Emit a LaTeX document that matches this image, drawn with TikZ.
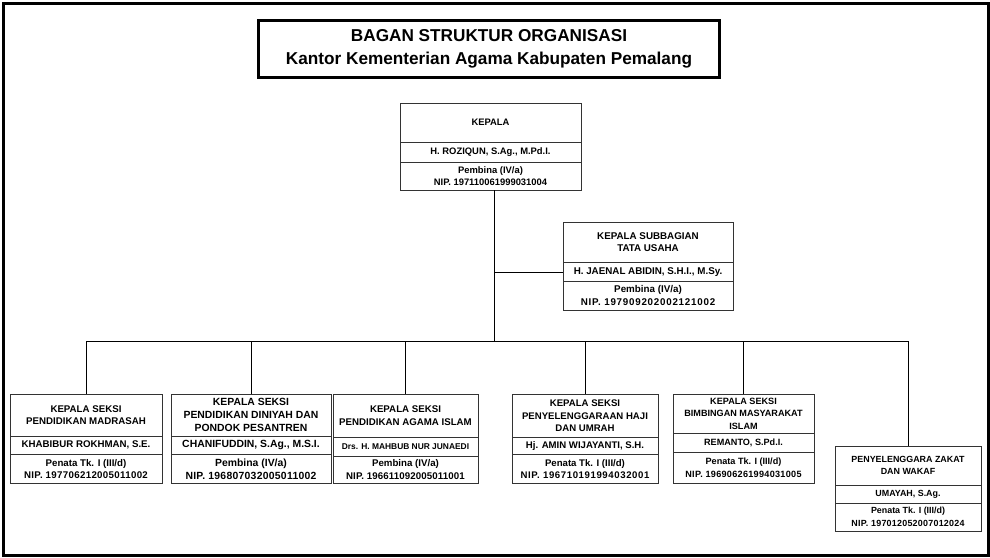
\documentclass[tikz,border=0pt]{standalone}
\usepackage{fontspec}
\setmainfont{Liberation Sans}
\tikzset{
  sect/.style={draw=black!80, line width=0.9pt, inner sep=0pt, outer sep=0pt, align=center,
    font=\bfseries\fontsize{\gfs}{\gbs}\selectfont, anchor=north west},
  conn/.style={draw=black, line width=0.9pt},
  smallname/.style={font=\bfseries\fontsize{8.4}{9}\selectfont}
}
\newcommand\setgeom[6]{\def\gxa{#1}\def\gxb{#2}\def\gya{#3}\def\gyb{#4}\def\gyc{#5}\def\gyd{#6}}
\newcommand\setfnt[3]{\def\gfs{#1}\def\gbs{#2}\def\gls{#3}}
\newcommand\nipline[1]{\edef\niptmp{\noexpand\addfontfeature{LetterSpace=\gls}}\niptmp NIP. #1}
\newcommand\orgbox[6][]{%
  \pgfmathsetmacro\gw{\gxb-\gxa}%
  \pgfmathsetmacro\gha{\gyb-\gya}%
  \pgfmathsetmacro\ghb{\gyc-\gyb}%
  \pgfmathsetmacro\ghc{\gyd-\gyc}%
  \node[sect, minimum width=\gw pt, minimum height=\gha pt] (#2t) at (\gxa,\gya) {#3};
  \node[sect, minimum width=\gw pt, minimum height=\ghb pt, #1] (#2n) at (\gxa,\gyb) {#4};
  \node[sect, minimum width=\gw pt, minimum height=\ghc pt] (#2b) at (\gxa,\gyc) {#5\\{\nipline{#6}}};
}
\begin{document}
\begin{tikzpicture}[x=1pt,y=-1pt]
\useasboundingbox (0,0) rectangle (990,557);
% outer frame
\node[draw=black, line width=3pt, minimum width=985pt, minimum height=552.5pt, inner sep=0pt, anchor=north west] (frame) at (2,1.5) {};
% title
\node[draw=black, line width=3pt, minimum width=461pt, minimum height=57.5pt, inner sep=0pt, anchor=north west, align=center,
  font=\bfseries\fontsize{17.2}{23.3}\selectfont] (title) at (257,18.5) {BAGAN STRUKTUR ORGANISASI\\Kantor Kementerian Agama Kabupaten Pemalang};
% boxes
\setfnt{9.4}{12.6}{0}
\setgeom{400}{581}{103}{142.5}{162.5}{190}
\orgbox{k0}{KEPALA}{H. ROZIQUN, S.Ag., M.Pd.I.}{Pembina (IV/a)}{197110061999031004}
\setfnt{9.8}{12.6}{7.7}
\setgeom{563}{733}{222}{262.5}{281.5}{310}
\orgbox{ts}{KEPALA SUBBAGIAN\\TATA USAHA}{H. JAENAL ABIDIN, S.H.I., M.Sy.}{Pembina (IV/a)}{197909202002121002}
\setfnt{9.7}{12.6}{3.4}
\setgeom{10}{162}{394}{436}{454.5}{483.5}
\orgbox{b1}{KEPALA SEKSI\\PENDIDIKAN MADRASAH}{KHABIBUR ROKHMAN, S.E.}{Penata Tk. I (III/d)}{197706212005011002}
\setfnt{10.4}{12.8}{2.6}
\setgeom{171}{331}{394}{436}{454.5}{483.5}
\orgbox{b2}{KEPALA SEKSI\\PENDIDIKAN DINIYAH DAN\\PONDOK PESANTREN}{CHANIFUDDIN, S.Ag., M.S.I.}{Pembina (IV/a)}{196807032005011002}
\setfnt{9.7}{12.6}{1.2}
\setgeom{333}{478}{394}{437.5}{456}{483.5}
\orgbox[smallname]{b3}{KEPALA SEKSI\\PENDIDIKAN AGAMA ISLAM}{Drs. H. MAHBUB NUR JUNAEDI}{Pembina (IV/a)}{196611092005011001}
\setfnt{9.6}{12.6}{6.3}
\setgeom{512}{658}{394}{437.5}{454.5}{483.5}
\orgbox{b4}{KEPALA SEKSI\\PENYELENGGARAAN HAJI\\DAN UMRAH}{Hj. AMIN WIJAYANTI, S.H.}{Penata Tk. I (III/d)}{196710191994032001}
\setfnt{9.1}{12.6}{3.2}
\setgeom{673}{814}{394}{433}{452}{483.5}
\orgbox{b5}{KEPALA SEKSI\\BIMBINGAN MASYARAKAT\\ISLAM}{REMANTO, S.Pd.I.}{Penata Tk. I (III/d)}{196906261994031005}
\setfnt{8.9}{12.4}{2.9}
\setgeom{835}{981}{446}{485}{503}{531}
\orgbox{b6}{PENYELENGGARA ZAKAT\\DAN WAKAF}{UMAYAH, S.Ag.}{Penata Tk. I (III/d)}{197012052007012024}
% connectors
\coordinate (main) at (494,190);
\coordinate (busy) at (0,341);
\coordinate (busmid) at (main |- busy);
\coordinate (tsj) at (main |- tsn.west);
\draw[conn] (main) -- (busmid);
\draw[conn] (tsj) -- (tsn.west);
\draw[conn] (b1t.north |- busy) -- (b6t.north |- busy);
\foreach \b in {b1,b2,b3,b4,b5,b6} {
  \draw[conn] (\b t.north |- busy) -- (\b t.north);
}
\end{tikzpicture}
\end{document}
